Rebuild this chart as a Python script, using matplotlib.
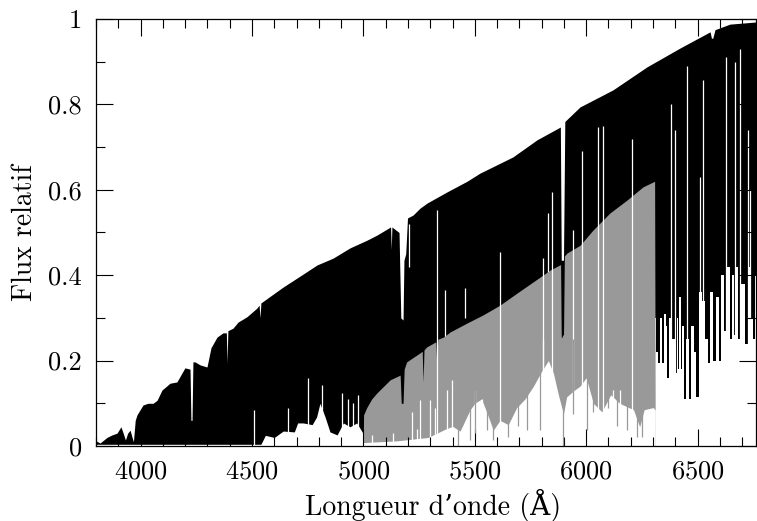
import numpy as np
import matplotlib
matplotlib.use("Agg")
import matplotlib.pyplot as plt
from matplotlib.ticker import MultipleLocator, FixedLocator, FixedFormatter

plt.rcParams.update({"font.family": ["cmr10", "DejaVu Serif"],
                     "axes.formatter.use_mathtext": True})

## Spectre noir : enveloppe haute (continuum + raies larges)
bk_top_wl = [3800, 3818, 3849, 3872, 3894, 3912, 3922, 3932, 3942, 3953, 3962, 3968,
             3976, 3984, 4011, 4033, 4056, 4074, 4096, 4132, 4163, 4199, 4222, 4226,
             4231, 4235, 4244, 4267, 4298, 4316, 4343, 4370, 4385, 4388, 4392, 4415,
             4437, 4478, 4522, 4532, 4536, 4540, 4639, 4716, 4792, 4864, 4940, 5016,
             5061, 5122, 5125, 5128, 5160, 5168, 5178, 5182, 5190, 5198, 5223, 5254,
             5286, 5375, 5465, 5523, 5671, 5779, 5884, 5888, 5898, 5904, 5972, 6120,
             6273, 6421, 6556, 6562, 6568, 6578, 6645, 6762]
bk_top_fx = [0.012, 0.007, 0.020, 0.026, 0.030, 0.045, 0.030, 0.014, 0.030, 0.037, 0.020, 0.010,
             0.060, 0.073, 0.096, 0.100, 0.100, 0.107, 0.131, 0.147, 0.150, 0.183, 0.180, 0.060,
             0.060, 0.197, 0.197, 0.190, 0.185, 0.230, 0.255, 0.265, 0.265, 0.195, 0.270, 0.276,
             0.290, 0.303, 0.323, 0.330, 0.300, 0.335, 0.372, 0.398, 0.424, 0.440, 0.464, 0.482,
             0.494, 0.513, 0.460, 0.513, 0.500, 0.300, 0.295, 0.435, 0.450, 0.534, 0.541, 0.557,
             0.569, 0.595, 0.620, 0.639, 0.677, 0.717, 0.747, 0.435, 0.435, 0.760, 0.794, 0.834,
             0.888, 0.932, 0.970, 0.955, 0.955, 0.975, 0.988, 0.993]

## Spectre noir : bord inférieur des raies (zone blanche en dessous)
bk_lo_wl = [3800, 4540, 4560, 4600, 4640, 4690, 4705, 4730, 4770, 4790, 4805, 4828,
            4850, 4882, 4910, 4940, 4970, 4998, 5010, 6300]
bk_lo_fx = [0.004, 0.004, 0.025, 0.020, 0.035, 0.033, 0.054, 0.054, 0.050, 0.068, 0.100, 0.068,
            0.033, 0.026, 0.054, 0.045, 0.054, 0.030, 0.010, 0.010]

# peigne des raies profondes dans le rouge
bk_comb_wl = [6310, 6319, 6328, 6335, 6343, 6353, 6361, 6368, 6376, 6391, 6403, 6409,
              6413, 6421, 6428, 6436, 6446, 6454, 6466, 6476, 6488, 6500, 6510, 6525,
              6537, 6552, 6563, 6578, 6588, 6600, 6612, 6627, 6639, 6653, 6660, 6667,
              6678, 6687, 6702, 6720, 6732, 6742, 6753, 6762]
bk_comb_fx = [0.30, 0.22, 0.195, 0.30, 0.195, 0.31, 0.28, 0.16, 0.30, 0.25, 0.17, 0.30,
              0.18, 0.35, 0.18, 0.28, 0.11, 0.25, 0.11, 0.28, 0.22, 0.115, 0.36, 0.34,
              0.25, 0.195, 0.36, 0.20, 0.35, 0.20, 0.40, 0.27, 0.42, 0.25, 0.40, 0.26,
              0.42, 0.25, 0.38, 0.24, 0.42, 0.30, 0.25, 0.40]

# fentes blanches dans le spectre noir (cachées sous le gris)
gap_wl = [4509, 4663, 4753, 4813, 4902, 4932, 4955, 4977, 5206, 5366, 5456, 5830,
          6382, 6398, 6453, 6510, 6526, 6627, 6668, 6692, 6727, 6736]
gap_lo = [0, 0, 0, 0, 0, 0, 0, 0, 0.42, 0, 0.30, 0,
          0, 0, 0, 0, 0, 0, 0, 0, 0, 0]
gap_hi = [0.084, 0.09, 0.16, 0.143, 0.124, 0.11, 0.10, 0.12, 0.52, 0.365, 0.37, 0.545,
          0.80, 0.74, 0.89, 0.63, 0.857, 0.91, 0.90, 0.93, 0.74, 0.60]

# fentes blanches qui traversent aussi le spectre gris
cross_wl = [5329, 5613, 5807, 5845, 5942, 5981, 6052, 6077, 6205]
cross_hi = [0.553, 0.454, 0.44, 0.595, 0.506, 0.69, 0.747, 0.75, 0.72]

## Spectre gris (5000-6310 Å)
gr_top_wl = [4999, 5001, 5015, 5037, 5060, 5120, 5165, 5170, 5178, 5183, 5194, 5254,
             5264, 5268, 5272, 5284, 5325, 5329, 5334, 5359, 5389, 5465, 5537, 5613,
             5689, 5761, 5838, 5885, 5888, 5898, 5902, 5914, 5972, 6031, 6107, 6183,
             6255, 6307, 6310]
gr_top_fx = [0.0, 0.073, 0.090, 0.110, 0.124, 0.155, 0.166, 0.100, 0.100, 0.180, 0.197, 0.218,
             0.222, 0.150, 0.225, 0.232, 0.244, 0.194, 0.250, 0.255, 0.267, 0.288, 0.307, 0.330,
             0.358, 0.384, 0.412, 0.425, 0.255, 0.255, 0.445, 0.452, 0.470, 0.506, 0.546, 0.576,
             0.607, 0.620, 0.0]

gr_lo_wl = [5000, 5150, 5290, 5370, 5400, 5434, 5479, 5500, 5530, 5553, 5583, 5613,
            5650, 5688, 5725, 5763, 5800, 5830, 5853, 5875, 5898, 5912, 5945, 5972,
            6000, 6032, 6070, 6110, 6150, 6212, 6240, 6260, 6301, 6310]
gr_lo_fx = [0.008, 0.012, 0.020, 0.040, 0.046, 0.035, 0.085, 0.100, 0.110, 0.080, 0.037, 0.060,
            0.050, 0.090, 0.110, 0.140, 0.175, 0.200, 0.170, 0.120, 0.075, 0.115, 0.130, 0.140,
            0.160, 0.100, 0.080, 0.120, 0.100, 0.085, 0.045, 0.085, 0.090, 0.084]

gr_gap_wl = [5037, 5135, 5217, 5239, 5254, 5299, 5322, 5374, 5396, 5501, 5531, 5805,
             6120, 6150]
gr_gap_hi = [0.025, 0.03, 0.08, 0.04, 0.108, 0.108, 0.09, 0.13, 0.155, 0.13, 0.11, 0.25,
             0.13, 0.13]

# raies grises qui descendent sous le bord inférieur
gr_line_wl = [5426, 5479, 5501, 5553, 5583, 5651, 5696, 5733, 5793, 5894, 5942, 6002,
              6032, 6100, 6137, 6182, 6227, 6249]
gr_line_lo = [0.0, 0.014, 0.03, 0.037, 0.014, 0.02, 0.046, 0.037, 0.037, 0.0, 0.076, 0.037,
              0.08, 0.09, 0.046, 0.037, 0.02, 0.02]
gr_line_hi = [0.10, 0.10, 0.15, 0.15, 0.15, 0.15, 0.15, 0.20, 0.25, 0.26, 0.25, 0.25,
              0.25, 0.25, 0.25, 0.25, 0.25, 0.25]

GREY = "#999999"

fig = plt.figure(figsize=(7.57, 5.21), dpi=100)
ax = fig.add_axes([96 / 757, 75 / 521, 660 / 757, 427 / 521])

ax.fill_between(bk_top_wl, 0, bk_top_fx, color="black", lw=0, zorder=1)
ax.fill_between(bk_lo_wl, 0, bk_lo_fx, color="white", lw=0, zorder=1.1)
ax.fill_between(bk_comb_wl, 0, bk_comb_fx, color="white", lw=0, step="mid", zorder=1.1)
ax.vlines(gap_wl, gap_lo, gap_hi, color="white", lw=0.9, zorder=1.2)

ax.fill_between(gr_top_wl, 0, gr_top_fx, color=GREY, lw=0, zorder=1.3)
ax.fill_between(gr_lo_wl, 0, gr_lo_fx, color="white", lw=0, zorder=1.4)
ax.vlines(gr_gap_wl, 0, gr_gap_hi, color="white", lw=0.9, zorder=1.5)
ax.vlines(cross_wl, 0, cross_hi, color="white", lw=0.9, zorder=1.5)
ax.vlines(gr_line_wl, gr_line_lo, gr_line_hi, color=GREY, lw=0.9, zorder=1.6)

ax.set_xlim(3800, 6762)
ax.set_ylim(0, 1)

ax.xaxis.set_major_locator(MultipleLocator(500))
ax.xaxis.set_minor_locator(MultipleLocator(100))
ytick_vals = [0, 0.2, 0.4, 0.6, 0.8, 1]
ytick_labels = ["0", "0.2", "0.4", "0.6", "0.8", "1"]
ax.yaxis.set_major_locator(FixedLocator(ytick_vals))
ax.yaxis.set_major_formatter(FixedFormatter(ytick_labels))
ax.yaxis.set_minor_locator(MultipleLocator(0.1))

ax.tick_params(which="both", direction="in", top=True, right=True, width=0.8,
               labelsize=19, pad=10)
ax.tick_params(which="major", length=12.5)
ax.tick_params(which="minor", length=6.5)
for sp in ax.spines.values():
    sp.set_linewidth(0.9)

ax.set_xlabel("Longueur d\u2019onde (\u00c5)", fontsize=20)
ax.set_ylabel("Flux relatif", fontsize=20)
ax.xaxis.set_label_coords(0.51, -0.1)
ax.yaxis.set_label_coords(-0.088, 0.5)

fig.savefig("out.png", dpi=100)
